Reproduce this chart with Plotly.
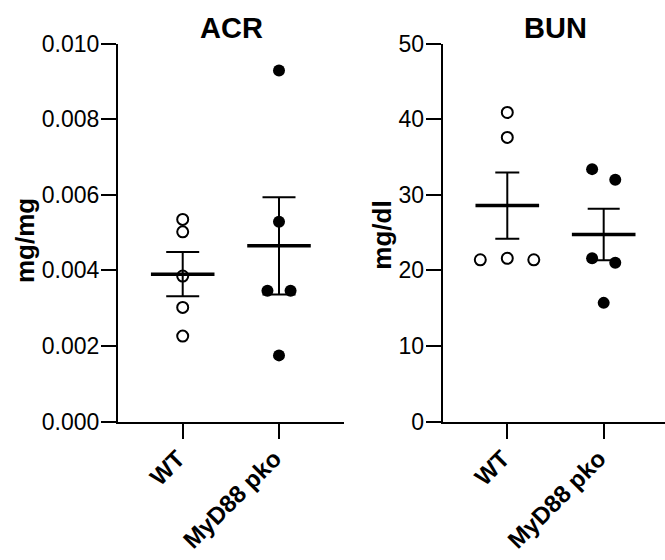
import numpy as np
import plotly.graph_objects as go

groups = ["WT", "MyD88 pko"]

acr_wt = [0.00535, 0.00502, 0.00385, 0.00302, 0.00226]
acr_ko = [0.00929, 0.00529, 0.00346, 0.00346, 0.00175]
bun_wt = [40.9, 37.6, 21.4, 21.6, 21.4]
bun_ko = [33.4, 32.0, 21.6, 21.0, 15.7]

acr_ticks = [0.000, 0.002, 0.004, 0.006, 0.008, 0.010]
acr_ticktext = ["0.000", "0.002", "0.004", "0.006", "0.008", "0.010"]
bun_ticks = [0, 10, 20, 30, 40, 50]

# horizontal scatter offsets (column-scatter layout) per point
acr_wt_off = [0, 0, 0, 0, 0]
acr_ko_off = [0, 0, -0.12, 0.12, 0]
bun_wt_off = [0, 0, -0.28, 0, 0.275]
bun_ko_off = [-0.12, 0.12, -0.12, 0.12, 0]

FONT = "Arial, Liberation Sans, sans-serif"
fig = go.Figure()


def add_group(vals, offs, gi, filled, xa, ya, capw):
    v = np.array(vals, dtype=float)
    m = v.mean()
    sem = v.std(ddof=1) / np.sqrt(len(v))
    # SEM error bar
    fig.add_trace(go.Scatter(
        x=[gi], y=[m], mode="markers", marker=dict(size=1, opacity=0),
        error_y=dict(type="data", array=[sem], visible=True, color="black",
                     thickness=2, width=capw),
        xaxis=xa, yaxis=ya, showlegend=False, hoverinfo="skip"))
    # mean line
    fig.add_trace(go.Scatter(
        x=[gi - 0.33, gi + 0.33], y=[m, m], mode="lines",
        line=dict(color="black", width=3.5),
        xaxis=xa, yaxis=ya, showlegend=False, hoverinfo="skip"))
    # points
    xs = [gi + o for o in offs]
    if filled:
        mk = dict(symbol="circle", size=12, color="black", line=dict(width=0))
    else:
        mk = dict(symbol="circle-open", size=11, color="black", line=dict(width=2, color="black"))
    fig.add_trace(go.Scatter(
        x=xs, y=vals, mode="markers", marker=mk,
        xaxis=xa, yaxis=ya, showlegend=False))


add_group(acr_wt, acr_wt_off, 0, False, "x", "y", 16.5)
add_group(acr_ko, acr_ko_off, 1, True, "x", "y", 16.5)
add_group(bun_wt, bun_wt_off, 0, False, "x2", "y2", 12)
add_group(bun_ko, bun_ko_off, 1, True, "x2", "y2", 16)

W, H = 665, 560
ydom = [1 - 421.5 / H, 1 - 43.7 / H]

axis_common = dict(showline=True, linecolor="black", linewidth=2, ticks="outside",
                   ticklen=15, tickwidth=2, tickcolor="black", showgrid=False,
                   zeroline=False, mirror=False, automargin=False)

xfont = dict(size=24, family=FONT, weight="bold")
yfont = dict(size=23, family=FONT)
xtext = [g + "\u00a0" for g in groups]

fig.update_layout(
    template="none",
    width=W, height=H, margin=dict(l=0, r=0, t=0, b=0, autoexpand=False),
    plot_bgcolor="white", paper_bgcolor="white",
    font=dict(family=FONT, color="black"),
    xaxis=dict(domain=[118 / W, 344 / W], range=[-0.672, 1.675], anchor="y",
               tickvals=[0, 1], ticktext=xtext, tickangle=-45, ticklabelstandoff=-8,
               tickfont=xfont, **axis_common),
    yaxis=dict(domain=ydom, range=[0, 0.010], anchor="x",
               tickvals=acr_ticks, ticktext=acr_ticktext, ticklabelstandoff=-3,
               tickfont=yfont, **axis_common),
    xaxis2=dict(domain=[442.7 / W, 1], range=[-0.67, 1.636], anchor="y2",
                tickvals=[0, 1], ticktext=xtext, tickangle=-45, ticklabelstandoff=-8,
                tickfont=xfont, **axis_common),
    yaxis2=dict(domain=ydom, range=[0, 50], anchor="x2",
                tickvals=bun_ticks, ticklabelstandoff=-3,
                tickfont=yfont, **axis_common),
    annotations=[
        dict(text="<b>ACR</b>", x=231 / W, y=1 - 28 / H, xref="paper", yref="paper",
             xanchor="center", yanchor="middle", showarrow=False,
             font=dict(size=29, family=FONT)),
        dict(text="<b>BUN</b>", x=555.5 / W, y=1 - 28 / H, xref="paper", yref="paper",
             xanchor="center", yanchor="middle", showarrow=False,
             font=dict(size=29, family=FONT)),
        dict(text="<b>mg/mg</b>", x=25 / W, y=1 - 241 / H, xref="paper", yref="paper",
             xanchor="center", yanchor="middle", showarrow=False, textangle=-90,
             font=dict(size=26, family=FONT)),
        dict(text="<b>mg/dl</b>", x=381.7 / W, y=1 - 235 / H, xref="paper", yref="paper",
             xanchor="center", yanchor="middle", showarrow=False, textangle=-90,
             font=dict(size=26, family=FONT)),
    ],
)

fig.write_html("out.html", config={"displayModeBar": False},
               post_script="document.body.style.margin='0';")
